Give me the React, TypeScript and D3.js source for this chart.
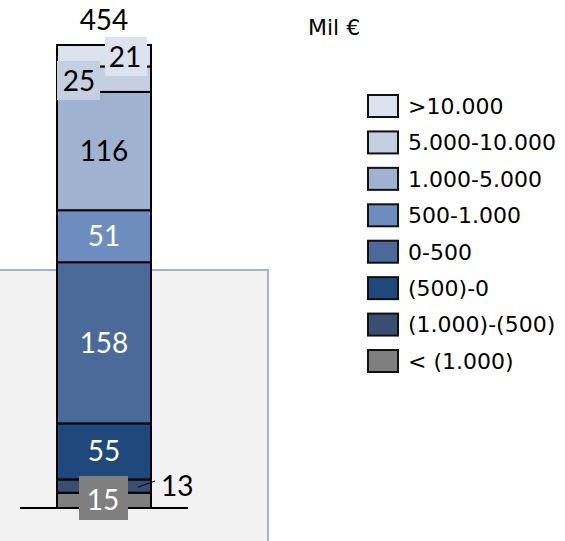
import React from "react";
import * as d3 from "d3";

// bottom -> top
const categories = [
  "< (1.000)",
  "(1.000)-(500)",
  "(500)-0",
  "0-500",
  "500-1.000",
  "1.000-5.000",
  "5.000-10.000",
  ">10.000",
];
const values = [15, 13, 55, 158, 51, 116, 25, 21];
const colors = ["#7f7f7f", "#394e70", "#1f497d", "#4b6a99", "#6c8dbd", "#9fb2d0", "#c5cfe2", "#dce3ee"];
const labelColors = ["#fff", "#000", "#fff", "#fff", "#fff", "#000", "#000", "#000"];
const unitLabel = "Mil €";

const W = 565;
const H = 541;
const total = d3.sum(values);
const tops = Array.from(d3.cumsum(values));

export default function App() {
  const y = d3.scaleLinear().domain([0, total]).range([508, 45]);
  const x = d3.scaleBand().domain(["total"]).range([57, 151]).padding(0);
  const bx = x("total") as number;
  const bw = x.bandwidth();
  const cx = bx + bw / 2;
  const numFont = "Lato, 'Open Sans', sans-serif";
  const legFont = "'DejaVu Sans', Verdana, sans-serif";
  const fs = 28;

  const segs = values.map((v, i) => ({
    v,
    i,
    y0: y(tops[i] - v),
    y1: y(tops[i]),
  }));

  // legend rows listed top -> bottom
  const legendItems = categories.map((c, i) => ({ c, col: colors[i] })).reverse();
  const ly = d3.scalePoint().domain(legendItems.map(d => d.c)).range([106, 361]);

  return (
    <svg width={W} height={H} style={{ position: "absolute", left: 0, top: 0 }}>
      <rect x={-5} y={270} width={273} height={280} fill="#f2f2f2" stroke="#9db6d8" strokeWidth={2} />

      <line x1={20} x2={188} y1={y(0)} y2={y(0)} stroke="#000" strokeWidth={2} />

      {segs.map(s => (
        <rect key={s.i} x={bx} y={s.y1} width={bw} height={s.y0 - s.y1}
          fill={colors[s.i]} stroke="#000" strokeWidth={2} />
      ))}

      {/* labels inside segments */}
      {segs.filter(s => [2, 3, 4, 5].includes(s.i)).map(s => (
        <text key={s.i} x={cx} y={(s.y0 + s.y1) / 2} dy="0.36em" textAnchor="middle"
          fontFamily={numFont} fontSize={fs} fill={labelColors[s.i]}>{s.v}</text>
      ))}

      {/* >10.000 label */}
      <rect x={105} y={37} width={42} height={39} fill={colors[7]} />
      <text x={125} y={57} dy="0.36em" textAnchor="middle" fontFamily={numFont} fontSize={fs} fill="#000">{values[7]}</text>

      {/* 5.000-10.000 label */}
      <rect x={bx} y={61} width={43} height={39} fill={colors[6]} />
      <text x={79} y={81} dy="0.36em" textAnchor="middle" fontFamily={numFont} fontSize={fs} fill="#000">{values[6]}</text>

      {/* (1.000)-(500) label with leader */}
      <line x1={138} y1={(segs[1].y0 + segs[1].y1) / 2 + 1} x2={155} y2={481} stroke="#000" strokeWidth={1} />
      <text x={161} y={485.5} dy="0.36em" fontFamily={numFont} fontSize={fs} fill="#000">{values[1]}</text>

      {/* < (1.000) label */}
      <rect x={79} y={476} width={49} height={44} fill={colors[0]} />
      <text x={103} y={499.5} dy="0.36em" textAnchor="middle" fontFamily={numFont} fontSize={fs} fill="#fff">{values[0]}</text>

      {/* total */}
      <text x={cx} y={19.5} dy="0.36em" textAnchor="middle" fontFamily={numFont} fontSize={fs} fill="#000">{total}</text>

      <text x={308} y={35} fontFamily={legFont} fontSize={22} fill="#000">{unitLabel}</text>

      {legendItems.map(d => (
        <g key={d.c} transform={`translate(0,${ly(d.c)})`}>
          <rect x={368} y={-11} width={30} height={22} fill={d.col} stroke="#111" strokeWidth={2} />
          <text x={408} y={0} dy="0.36em" fontFamily={legFont} fontSize={22} fill="#000">{d.c}</text>
        </g>
      ))}
    </svg>
  );
}
